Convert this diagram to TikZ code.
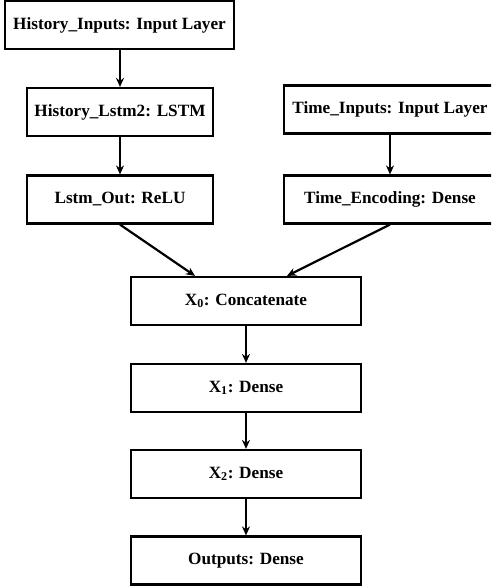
\documentclass[tikz,border=0pt]{standalone}
\usepackage{fontspec}
\setmainfont{Liberation Serif}
\usetikzlibrary{arrows.meta}
\begin{document}
\begin{tikzpicture}[x=1pt,y=-1pt,
  layer/.style={draw=black, line width=2.2pt, fill=white, inner sep=0pt,
    minimum height=48pt, font=\fontsize{17.2}{20}\selectfont\bfseries},
  flow/.style={line width=2.2pt, -{Stealth[length=9pt,width=8pt]}}]
\useasboundingbox (0,0) rectangle (491,586);
\clip (0,0) rectangle (491,586);
\node[layer, minimum width=229pt] (hi) at (119.5,25) {History\_Inputs: Input Layer};
\node[layer, minimum width=186pt] (hl) at (120,112) {History\_Lstm2: LSTM};
\node[layer, minimum width=186pt] (lo) at (120,199.5) {Lstm\_Out: ReLU};
\node[layer, minimum width=212pt] (ti) at (390,109.5) {Time\_Inputs: Input Layer};
\node[layer, minimum width=212pt] (te) at (390,199.5) {Time\_Encoding: Dense};
\node[layer, minimum width=230pt] (x0) at (246,301) {X\textsubscript{0}: Concatenate};
\node[layer, minimum width=230pt] (x1) at (246,388) {X\textsubscript{1}: Dense};
\node[layer, minimum width=230pt] (x2) at (246,474) {X\textsubscript{2}: Dense};
\node[layer, minimum width=230pt] (out) at (246,560.5) {Outputs: Dense};
\draw[flow] (hi.south -| hl.north) -- (hl.north);
\draw[flow] (hl) -- (lo);
\draw[flow] (ti) -- (te);
\draw[flow] (lo.south) -- ([xshift=-51pt]x0.north);
\draw[flow] (te.south) -- ([xshift=41pt]x0.north);
\draw[flow] (x0) -- (x1);
\draw[flow] (x1) -- (x2);
\draw[flow] (x2) -- (out);
\end{tikzpicture}
\end{document}
